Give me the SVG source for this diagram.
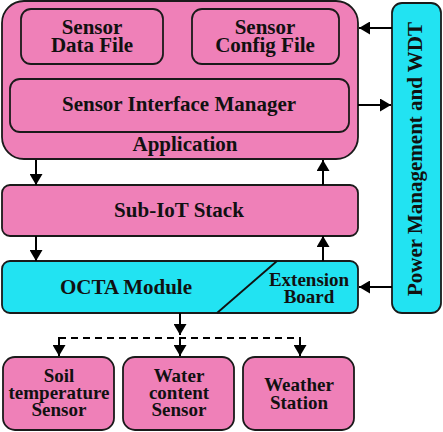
<svg xmlns="http://www.w3.org/2000/svg" width="443" height="432" viewBox="0 0 443 432">
<style>
.pk{fill:#EF80B8;stroke:#1a1a1a;stroke-width:1.8}
.cy{fill:#22E3F2;stroke:#1a1a1a;stroke-width:1.8}
text{font-family:"Liberation Serif","Times New Roman",serif;font-weight:bold;fill:#111;text-anchor:middle}
.t20{font-size:21px}
.t18{font-size:19px}
.ln{stroke:#000;stroke-width:2;fill:none}
</style>
<defs>
<marker id="ah" markerUnits="userSpaceOnUse" markerWidth="12" markerHeight="13" refX="11" refY="6.5" orient="auto">
<path d="M0,0 L11,6.5 L0,13 z" fill="#000"/>
</marker>
</defs>
<rect width="443" height="432" fill="#fff"/>
<g id="application">
<rect class="pk" x="2" y="1" width="356" height="158" rx="22"/>
<text class="t20" x="185" y="151">Application</text>
</g>
<g id="sensor-data-file">
<rect class="pk" x="21" y="9" width="142" height="55" rx="10"/>
<text class="t20" x="92" y="34">Sensor</text>
<text class="t20" x="92" y="52">Data File</text>
</g>
<g id="sensor-config-file">
<rect class="pk" x="192" y="9" width="147" height="55" rx="10"/>
<text class="t20" x="265" y="34">Sensor</text>
<text class="t20" x="265" y="52">Config File</text>
</g>
<g id="sensor-interface-manager">
<rect class="pk" x="10" y="79" width="339" height="53" rx="10"/>
<text class="t20" x="179" y="111">Sensor Interface Manager</text>
</g>
<g id="power-management">
<rect class="cy" x="392" y="3" width="49" height="310" rx="10"/>
<text class="t20" transform="translate(422,159) rotate(-90)">Power Management and WDT</text>
</g>
<g id="sub-iot-stack">
<rect class="pk" x="2" y="185" width="356" height="51" rx="8"/>
<text class="t20" x="179" y="217">Sub-IoT Stack</text>
</g>
<g id="octa-module">
<rect class="cy" x="2" y="261" width="356" height="52" rx="8"/>
<line x1="277" y1="261" x2="217" y2="313" stroke="#111" stroke-width="1.8"/>
<text class="t20" x="126" y="294">OCTA Module</text>
<text class="t18" x="309" y="286">Extension</text>
<text class="t18" x="309" y="303">Board</text>
</g>
<g id="soil-sensor">
<rect class="pk" x="3" y="357" width="111" height="73" rx="12"/>
<text class="t18" x="59" y="382">Soil</text>
<text class="t18" x="59" y="399">temperature</text>
<text class="t18" x="59" y="416">Sensor</text>
</g>
<g id="water-sensor">
<rect class="pk" x="123" y="357" width="111" height="73" rx="12"/>
<text class="t18" x="179" y="382">Water</text>
<text class="t18" x="179" y="399">content</text>
<text class="t18" x="179" y="416">Sensor</text>
</g>
<g id="weather-station">
<rect class="pk" x="243" y="357" width="111" height="73" rx="12"/>
<text class="t18" x="299" y="391">Weather</text>
<text class="t18" x="299" y="408.5">Station</text>
</g>
<g id="connectors">
<line class="ln" x1="36" y1="160" x2="36" y2="185" marker-end="url(#ah)"/>
<line class="ln" x1="323" y1="185" x2="323" y2="160" marker-end="url(#ah)"/>
<line class="ln" x1="36" y1="236" x2="36" y2="261" marker-end="url(#ah)"/>
<line class="ln" x1="323" y1="261" x2="323" y2="236" marker-end="url(#ah)"/>
<line class="ln" x1="392" y1="28" x2="359" y2="28" marker-end="url(#ah)"/>
<line class="ln" x1="358" y1="105" x2="391" y2="105" marker-end="url(#ah)"/>
<line class="ln" x1="392" y1="287" x2="359" y2="287" marker-end="url(#ah)"/>
<line class="ln" x1="180" y1="313" x2="180" y2="335" marker-end="url(#ah)"/>
<line class="ln" x1="59" y1="338" x2="300" y2="338" stroke-dasharray="7,5"/>
<line class="ln" x1="59" y1="337" x2="59" y2="356" marker-end="url(#ah)"/>
<line class="ln" x1="180" y1="338" x2="180" y2="356" marker-end="url(#ah)"/>
<line class="ln" x1="300" y1="337" x2="300" y2="356" marker-end="url(#ah)"/>
</g>
</svg>
